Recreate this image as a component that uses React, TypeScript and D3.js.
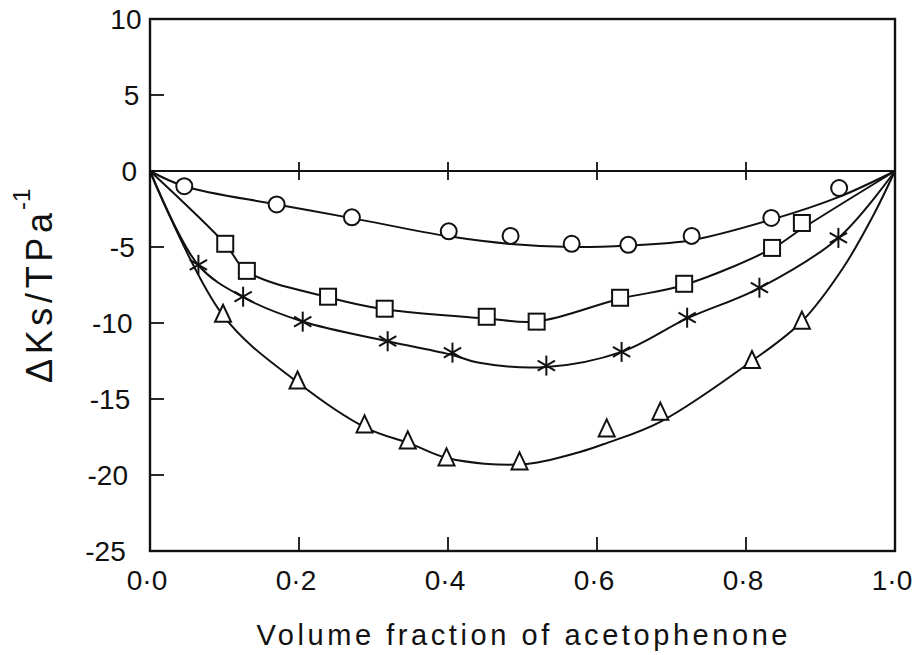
import React from 'react';
import * as d3 from 'd3';

// measured points [volume fraction, ΔKs]
const circlePts: [number, number][] = [
  [0.046, -1.0], [0.17, -2.2], [0.271, -3.05], [0.401, -3.97], [0.484, -4.27],
  [0.566, -4.79], [0.642, -4.86], [0.727, -4.27], [0.834, -3.09], [0.925, -1.12],
];
const squarePts: [number, number][] = [
  [0.101, -4.79], [0.13, -6.57], [0.239, -8.27], [0.315, -9.06], [0.452, -9.59],
  [0.519, -9.91], [0.631, -8.34], [0.717, -7.42], [0.835, -5.06], [0.875, -3.42],
];
const starPts: [number, number][] = [
  [0.065, -6.17], [0.125, -8.27], [0.205, -9.91], [0.319, -11.2], [0.406, -11.95],
  [0.532, -12.8], [0.633, -11.9], [0.721, -9.65], [0.818, -7.68], [0.924, -4.4],
];
const trianglePts: [number, number][] = [
  [0.098, -9.46], [0.198, -13.85], [0.288, -16.74], [0.346, -17.79], [0.398, -18.91],
  [0.496, -19.17], [0.613, -17.0], [0.685, -15.9], [0.808, -12.5], [0.875, -9.91],
];

// fitted curves as drawn
const circleFit: [number, number][] = [
  [0, 0], [0.046, -1.0], [0.17, -2.2], [0.271, -3.1], [0.401, -4.3], [0.484, -4.8],
  [0.566, -5.0], [0.642, -4.9], [0.727, -4.55], [0.834, -3.2], [0.925, -1.7], [1, 0],
];
const squareFit: [number, number][] = [
  [0, 0], [0.101, -4.8], [0.13, -6.6], [0.239, -8.3], [0.315, -9.1], [0.452, -9.7],
  [0.519, -9.9], [0.631, -8.4], [0.717, -7.5], [0.835, -5.1], [0.875, -3.8], [1, 0],
];
const starFit: [number, number][] = [
  [0, 0], [0.065, -6.2], [0.125, -8.3], [0.205, -9.9], [0.319, -11.2], [0.406, -12.1],
  [0.44, -12.6], [0.532, -12.9], [0.633, -11.9], [0.721, -9.7], [0.818, -7.7], [0.924, -4.4], [1, 0],
];
const triangleFit: [number, number][] = [
  [0, 0], [0.098, -9.5], [0.198, -13.9], [0.29, -16.9], [0.35, -17.95], [0.40, -18.9],
  [0.50, -19.3], [0.576, -18.5], [0.613, -17.9], [0.685, -16.5], [0.808, -12.5],
  [0.875, -9.9], [0.93, -6.4], [0.97, -3.0], [1, 0],
];

const xTicks = [0, 0.2, 0.4, 0.6, 0.8, 1.0];
const xTickLabels = ['0·0', '0·2', '0·4', '0·6', '0·8', '1·0'];
const yTicks = [10, 5, 0, -5, -10, -15, -20, -25];

const FONT = '"Liberation Sans", Arial, sans-serif';
const INK = '#111';

function Marker({ kind, x, y }: { kind: string; x: number; y: number }) {
  const common = { fill: 'white', stroke: INK, strokeWidth: 2 };
  if (kind === 'circle') return <circle cx={x} cy={y} r={8} {...common} />;
  if (kind === 'square') return <rect x={x - 8} y={y - 8} width={16} height={16} {...common} />;
  if (kind === 'triangle')
    return <path d={`M${x},${y - 10}L${x + 8},${y + 7}L${x - 8},${y + 7}Z`} {...common} strokeLinejoin="miter" />;
  const r = 10;
  return (
    <g stroke={INK} strokeWidth={2}>
      {[90, 30, 150].map((a) => {
        const dx = r * Math.cos((a * Math.PI) / 180);
        const dy = r * Math.sin((a * Math.PI) / 180);
        return <line key={a} x1={x - dx} y1={y - dy} x2={x + dx} y2={y + dy} />;
      })}
    </g>
  );
}

export default function App() {
  const x = d3.scaleLinear().domain([0, 1]).range([150, 895]);
  const y = d3.scaleLinear().domain([-25, 10]).range([551, 19]);

  const line = d3.line<[number, number]>()
    .x((d) => x(d[0]))
    .y((d) => y(d[1]))
    .curve(d3.curveCatmullRom.alpha(0.5));

  const series = [
    { kind: 'circle', pts: circlePts, fit: circleFit },
    { kind: 'square', pts: squarePts, fit: squareFit },
    { kind: 'star', pts: starPts, fit: starFit },
    { kind: 'triangle', pts: trianglePts, fit: triangleFit },
  ];

  return (
    <div style={{ position: 'absolute', left: 0, top: 0 }}>
      <svg width={917} height={655} style={{ display: 'block', background: 'white' }}>
        {/* frame */}
        <rect x={x(0)} y={y(10)} width={x(1) - x(0)} height={y(-25) - y(10)} fill="none" stroke={INK} strokeWidth={2.4} />
        {/* zero line with ticks */}
        <line x1={x(0)} x2={x(1)} y1={y(0)} y2={y(0)} stroke={INK} strokeWidth={2} />
        {xTicks.slice(1, -1).map((t) => (
          <g key={'t' + t} stroke={INK} strokeWidth={1.8}>
            <line x1={x(t)} x2={x(t)} y1={y(0) - 9} y2={y(0) + 9} />
            <line x1={x(t)} x2={x(t)} y1={y(-25)} y2={y(-25) - 14} />
          </g>
        ))}
        {yTicks.slice(1, -1).map((t) => (
          <line key={'y' + t} x1={x(0)} x2={x(0) + 14} y1={y(t)} y2={y(t)} stroke={INK} strokeWidth={1.8} />
        ))}
        {/* y tick labels */}
        {yTicks.map((t) => (
          <text key={'yl' + t} x={137 + 0.45 * t} y={y(t) + 10} textAnchor="end" fontFamily={FONT} fontSize={28} fill={INK}>
            {t < 0 ? '-' + Math.abs(t) : String(t)}
          </text>
        ))}
        {/* x tick labels */}
        {xTicks.map((t, i) => (
          <text key={'xl' + t} x={x(t) - 3} y={590} textAnchor="middle" fontFamily={FONT} fontSize={28} fill={INK}>
            {xTickLabels[i]}
          </text>
        ))}
        {/* axis titles */}
        <text x={522} y={645} textAnchor="middle" fontFamily={FONT} fontSize={29} fill={INK} textLength={531} lengthAdjust="spacing">
          Volume fraction of acetophenone
        </text>
        <text transform="translate(52,383) rotate(-90)" fontFamily={FONT} fontSize={36} fill={INK} textLength={170} lengthAdjust="spacing">
          ΔKs/TPa
        </text>
        <text transform="translate(30,210) rotate(-90)" fontFamily={FONT} fontSize={24} fill={INK}>
          -1
        </text>
        {/* curves */}
        {series.map((s) => (
          <path key={'c' + s.kind} d={line(s.fit) || ''} fill="none" stroke={INK} strokeWidth={2} />
        ))}
        {/* markers */}
        {series.map((s) =>
          s.pts.map((p, i) => <Marker key={s.kind + i} kind={s.kind} x={x(p[0])} y={y(p[1])} />)
        )}
      </svg>
    </div>
  );
}
